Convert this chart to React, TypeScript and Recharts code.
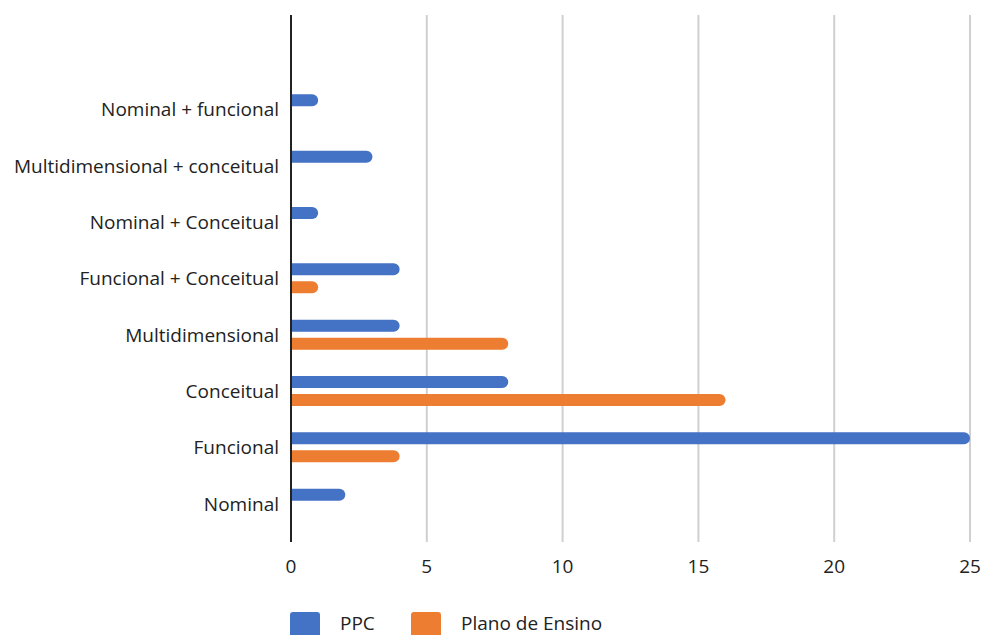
import { BarChart, Bar, XAxis, YAxis, CartesianGrid, Legend } from 'recharts'

// Categories from top to bottom (first one is an empty slot above the bars)
const categories = [
  '',
  'Nominal + funcional',
  'Multidimensional + conceitual',
  'Nominal + Conceitual',
  'Funcional + Conceitual',
  'Multidimensional',
  'Conceitual',
  'Funcional',
  'Nominal',
]
const ppc = [null, 1, 3, 1, 4, 4, 8, 25, 2]
const planoDeEnsino = [null, 0, 0, 0, 1, 8, 16, 4, 0]
const xTicks = [0, 5, 10, 15, 20, 25]

const series = [
  { key: 'ppc', label: 'PPC', color: '#4472C4' },
  { key: 'plano', label: 'Plano de Ensino', color: '#ED7D31' },
]

const data = categories.map((name, i) => ({
  name,
  ppc: ppc[i],
  plano: planoDeEnsino[i],
}))

const font = "'Open Sans', sans-serif"

const renderLegend = () => (
  <div style={{ display: 'flex', alignItems: 'flex-start', fontFamily: font, fontSize: 19, color: '#222' }}>
    {series.map((s) => (
      <div key={s.key} style={{ display: 'flex', alignItems: 'flex-start', minWidth: 121 }}>
        <div style={{ width: 30, height: 30, background: s.color, borderRadius: 3 }} />
        <span style={{ marginLeft: 20, lineHeight: '21px', paddingTop: 1 }}>{s.label}</span>
      </div>
    ))}
  </div>
)

export default function App() {
  return (
    <div style={{ position: 'absolute', left: 0, top: 0, width: 984, height: 635, overflow: 'hidden', background: '#fff' }}>
      <BarChart
        width={984}
        height={660}
        data={data}
        layout="vertical"
        margin={{ top: 15, right: 14, left: 0, bottom: 58 }}
        barSize={12}
        barGap={6}
      >
        <CartesianGrid horizontal={false} stroke="#d0d0d0" strokeWidth={2} />
        <XAxis
          type="number"
          domain={[0, 25]}
          ticks={xTicks}
          axisLine={false}
          tickLine={false}
          tick={{ fill: '#222', fontSize: 19, fontFamily: font }}
          tickMargin={12}
          height={30}
        />
        <YAxis
          type="category"
          dataKey="name"
          width={291}
          padding={{ top: 10, bottom: 10 }}
          axisLine={{ stroke: '#222', strokeWidth: 2 }}
          tickLine={false}
          tick={{ fill: '#222', fontSize: 19, fontFamily: font }}
          tickMargin={6}
          interval={0}
        />
        <Legend
          content={renderLegend}
          wrapperStyle={{ position: 'absolute', top: 612, left: 290, width: 'auto' }}
        />
        {series.map((s) => (
          <Bar
            key={s.key}
            dataKey={s.key}
            name={s.label}
            fill={s.color}
            radius={[0, 6, 6, 0]}
            isAnimationActive={false}
          />
        ))}
      </BarChart>
    </div>
  )
}
